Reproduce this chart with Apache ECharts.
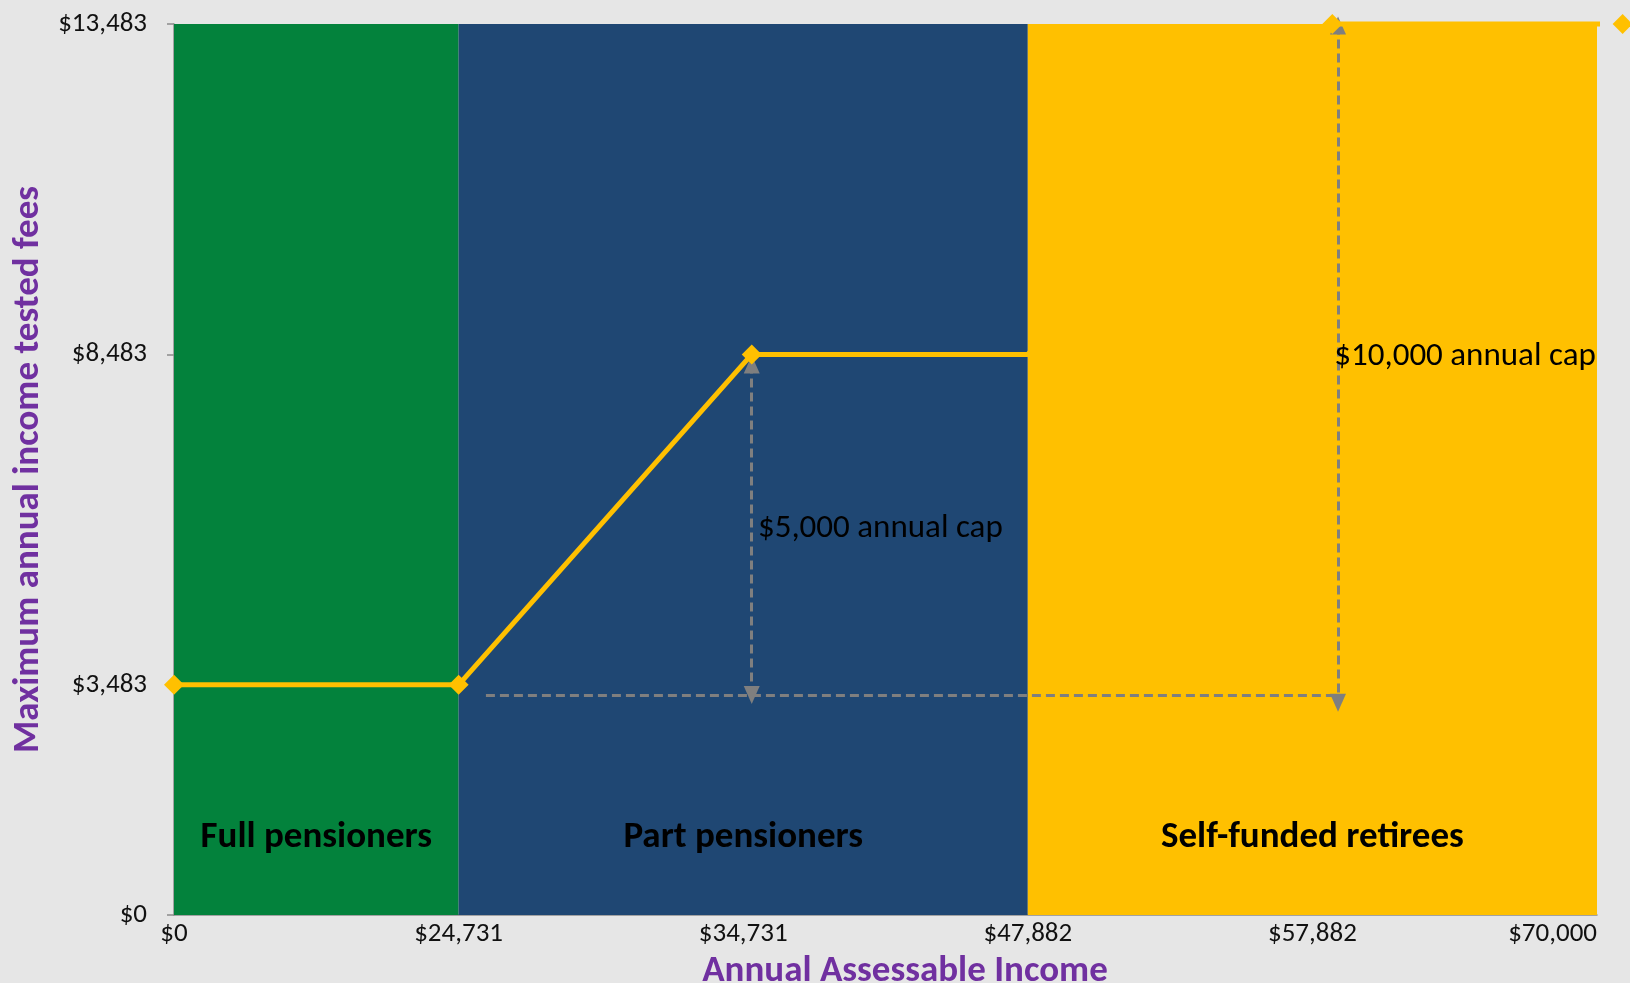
<!DOCTYPE html>
<html><head><meta charset="utf-8">
<script src="https://cdn.jsdelivr.net/npm/echarts@6/dist/echarts.min.js"></script>
<style>html,body{margin:0;padding:0;background:#e6e6e6}#c{width:1630px;height:983px}</style>
</head><body><div id="c"></div>
<script>
// X tick labels (income thresholds), placed at category index 0..5
const incomeLabels = ['$0', '$24,731', '$34,731', '$47,882', '$57,882', '$70,000'];
// Y tick values
const feeTicks = [0, 3483, 8483, 13483];
// Line: maximum annual income tested fee at income index
const feeX = [0, 1, 2.03, 3, 4.07, 5.09];
const feeY = [3483, 3483, 8483, 8483, 13483, 13483];
// Bands [fromIndex, toIndex, label]
const bandFrom = [0, 1, 3];
const bandTo = [1, 3, 5];
const bandNames = ['Full pensioners', 'Part pensioners', 'Self-funded retirees'];
const bandColors = ['#03823c', '#1f4773', '#ffc000'];
// Cap annotations
const capNames = ['$5,000 annual cap', '$10,000 annual cap'];
const capX = [2.03, 4.09];
const capTop = [8330, 13460];
const capBase = 3330;
const capLabelX = [2.05, 4.075];
const capLabelY = [5841, 8452];
const baseFromX = 1.096;

const font = 'Carlito, Calibri, Lato, sans-serif';
const chart = echarts.init(document.getElementById('c'));
const fee = feeX.map((x, i) => ({value: [x, feeY[i]], symbol: i === 3 ? 'none' : 'diamond'}));
const bandLabel = {show: true, position: 'insideBottom', distance: 59, color: '#000', fontSize: 37, fontWeight: 'bold', fontFamily: font};
function band(i) {
  return [
    {xAxis: bandFrom[i], yAxis: 0, name: bandNames[i], itemStyle: {color: bandColors[i], opacity: 1}, label: bandLabel},
    {xAxis: bandTo[i], yAxis: 13483}
  ];
}
chart.setOption({
  backgroundColor: '#e6e6e6',
  animation: false,
  grid: {left: 174, right: 33, top: 24, bottom: 68, outerBoundsMode: 'none', containLabel: false},
  xAxis: {
    type: 'value', min: 0, max: 5, interval: 1,
    name: 'Annual Assessable Income', nameLocation: 'middle', nameGap: 33,
    nameTextStyle: {color: '#7030a0', fontSize: 37, fontWeight: 'bold', fontFamily: font, padding: [0, 0, 0, 39]},
    axisLine: {lineStyle: {color: '#8c8c8c', width: 1.5}},
    axisTick: {show: false},
    splitLine: {show: false},
    axisLabel: {color: '#111', fontSize: 27, fontFamily: font, margin: 6,
      alignMaxLabel: 'right', formatter: v => incomeLabels[Math.round(v)] || ''}
  },
  yAxis: {
    type: 'value', min: 0, max: 13483,
    name: 'Maximum annual income tested fees', nameLocation: 'middle', nameGap: 121,
    nameTextStyle: {color: '#7030a0', fontSize: 37, fontWeight: 'bold', fontFamily: font},
    axisLine: {show: true, lineStyle: {color: '#8c8c8c', width: 1.5}},
    axisTick: {show: true, length: 7, customValues: feeTicks, lineStyle: {color: '#8c8c8c', width: 1.5}},
    splitLine: {show: false},
    axisLabel: {color: '#111', fontSize: 27, fontFamily: font, margin: 27, customValues: feeTicks,
      formatter: v => '$' + v.toLocaleString('en-US')}
  },
  series: [
    {
      type: 'line', data: [], z: 1, silent: true,
      markArea: {silent: true, data: [band(0), band(1)]}
    },
    {
      type: 'line', data: fee, z: 5, clip: false,
      symbolSize: 20, showSymbol: true,
      lineStyle: {color: '#ffc000', width: 5},
      itemStyle: {color: '#ffc000'}
    },
    {
      type: 'line', data: [], z: 6, silent: true,
      markArea: {silent: true, data: [band(2)]}
    },
    {
      type: 'line', data: [], z: 8, silent: true,
      markLine: {
        silent: true, symbol: ['none', 'none'], animation: false,
        lineStyle: {color: '#7f7f7f', type: [9, 5], width: 3},
        label: {show: false},
        data: [
          [{coord: [baseFromX, capBase]}, {coord: [capX[1], capBase]}],
          [{coord: [capX[0], capTop[0]], symbol: 'triangle', symbolSize: [16, 18], symbolRotate: 0},
           {coord: [capX[0], capBase], symbol: 'triangle', symbolSize: [16, 18], symbolRotate: 180}],
          [{coord: [capX[1], capTop[1]], symbol: 'triangle', symbolSize: [16, 18], symbolRotate: 0},
           {coord: [capX[1], capBase - 120], symbol: 'triangle', symbolSize: [16, 18], symbolRotate: 180}]
        ]
      },
      markPoint: {
        silent: true, symbol: 'circle', symbolSize: 1, itemStyle: {color: 'rgba(0,0,0,0)'},
        label: {show: true, position: 'right', distance: 0, color: '#000', fontSize: 33, fontFamily: font,
          formatter: p => p.name},
        data: capNames.map((n, i) => ({name: n, coord: [capLabelX[i], capLabelY[i]]}))
      }
    }
  ]
});
</script></body></html>
